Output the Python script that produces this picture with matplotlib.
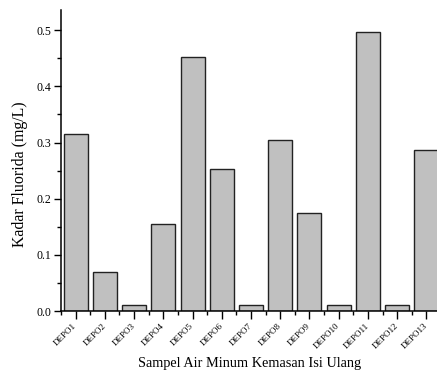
import numpy as np
import matplotlib
matplotlib.use('Agg')
import matplotlib.pyplot as plt
from matplotlib.ticker import MultipleLocator

plt.rcParams['font.family'] = ['Liberation Serif', 'DejaVu Serif']

labels = ['DEPO1', 'DEPO2', 'DEPO3', 'DEPO4', 'DEPO5', 'DEPO6', 'DEPO7',
          'DEPO8', 'DEPO9', 'DEPO10', 'DEPO11', 'DEPO12', 'DEPO13']
values = [0.315, 0.07, 0.01, 0.155, 0.453, 0.252, 0.01,
          0.305, 0.174, 0.01, 0.497, 0.01, 0.286]

fig = plt.figure(figsize=(4.37, 3.73), dpi=100)
ax = fig.add_axes([0.1396, 0.1662, 0.8696, 0.807])

x = np.arange(1, len(values) + 1)
ax.bar(x, values, width=0.82, color='#c0c0c0', edgecolor='#222222', linewidth=1.0)

ax.set_xlim(0.5, 13.5)
ax.set_ylim(0, 0.536)
ax.set_xticks(x)
ax.set_xticklabels(labels, rotation=45, ha='right', va='center',
                   rotation_mode='anchor', fontsize=6.5)
ax.xaxis.set_minor_locator(MultipleLocator(0.5))
ax.yaxis.set_major_locator(MultipleLocator(0.1))
ax.yaxis.set_minor_locator(MultipleLocator(0.05))
ax.yaxis.set_major_formatter(plt.FormatStrFormatter('%.1f'))
ax.tick_params(axis='y', labelsize=8.5, length=5, width=1, direction='out', pad=2)
ax.tick_params(axis='x', length=6, width=1, direction='out', pad=4)
ax.tick_params(which='minor', length=3, width=1)
for s in ['top', 'right']:
    ax.spines[s].set_visible(False)
for s in ['left', 'bottom']:
    ax.spines[s].set_linewidth(1.1)

ax.set_ylabel('Kadar Fluorida (mg/L)', fontsize=11.4)
ax.set_xlabel('Sampel Air Minum Kemasan Isi Ulang', fontsize=10.3)
ax.yaxis.set_label_coords(-0.087, 0.455)
ax.xaxis.set_label_coords(0.497, -0.153)

fig.savefig('out.png', dpi=100)
